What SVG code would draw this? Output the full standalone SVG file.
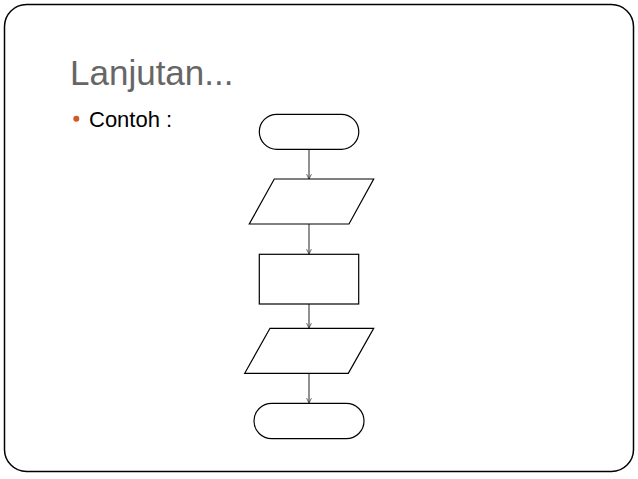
<svg xmlns="http://www.w3.org/2000/svg" width="638" height="479" viewBox="0 0 638 479">
<defs>
<style>
.shape{fill:#fff;stroke:#000;stroke-width:1.2}
.conn{stroke:#555;stroke-width:1.3;fill:none;marker-end:url(#arr)}
</style>
<marker id="arr" viewBox="0 0 10 10" refX="9" refY="5" markerWidth="6" markerHeight="6" orient="auto" markerUnits="userSpaceOnUse">
<path d="M1,1 L9,5 L1,9" fill="none" stroke="#333" stroke-width="1.3"/>
</marker>
</defs>
<rect x="0" y="0" width="638" height="479" fill="#fff"/>
<rect x="4.5" y="4.5" width="629" height="467" rx="22" ry="22" fill="#fff" stroke="#000" stroke-width="1.5"/>
<text x="70" y="85" font-family="Liberation Sans, Arial, sans-serif" font-size="35" fill="#666">Lanjutan...</text>
<circle cx="76.3" cy="118.8" r="3" fill="#D2582A"/>
<text x="89" y="127" font-family="Liberation Sans, Arial, sans-serif" font-size="22" fill="#000">Contoh :</text>
<g id="connectors">
<line class="conn" x1="309" y1="149.5" x2="309" y2="179"/>
<line class="conn" x1="309" y1="224" x2="309" y2="254"/>
<line class="conn" x1="309" y1="304" x2="309" y2="328"/>
<line class="conn" x1="309" y1="373" x2="309" y2="403"/>
</g>
<g id="start"><rect class="shape" x="259.3" y="114.3" width="99.5" height="35" rx="17.5" ry="17.5"/></g>
<g id="input"><polygon class="shape" points="274.3,179 373.7,179 349,224 249.3,224"/></g>
<g id="process"><rect class="shape" x="259.3" y="254.3" width="99.4" height="49.7"/></g>
<g id="output"><polygon class="shape" points="270,328.3 373.7,328.3 348.3,373.3 244.7,373.3"/></g>
<g id="end"><rect class="shape" x="254" y="403.3" width="110" height="35.4" rx="17.7" ry="17.7"/></g>
</svg>
